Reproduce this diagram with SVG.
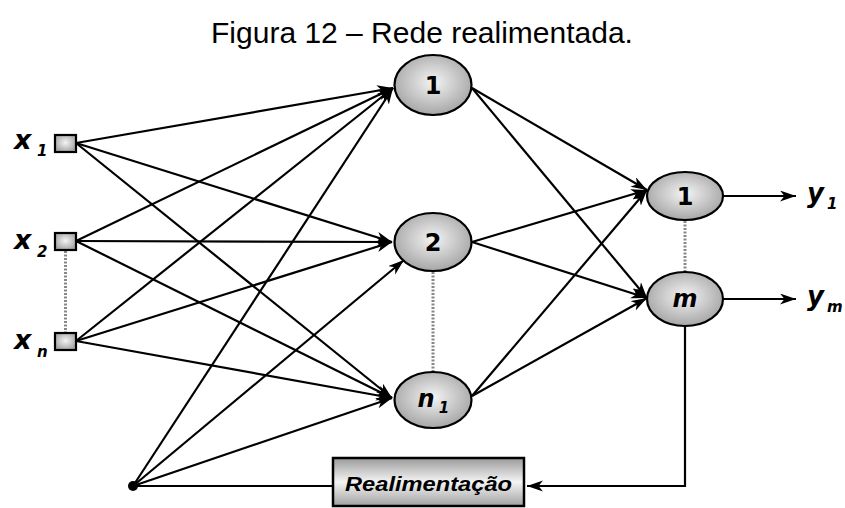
<svg xmlns="http://www.w3.org/2000/svg" width="845" height="508" viewBox="0 0 845 508">
<style>
.t{font-family:"Liberation Sans",Arial,sans-serif;fill:#000}
.lbl{font-family:"DejaVu Sans",sans-serif;font-weight:bold;font-style:italic;fill:#000}
.num{font-family:"DejaVu Sans",sans-serif;font-weight:bold;fill:#000}
.fbt{font-family:"Liberation Sans",Arial,sans-serif;font-weight:bold;font-style:italic;fill:#000}
.ln{stroke:#000;stroke-width:2.2;fill:none}
.arr{stroke:#000;stroke-width:2.2;fill:none;marker-end:url(#ah)}
.dot{stroke:#888;stroke-width:3;stroke-dasharray:2 1.5;fill:none}
.nd{fill:url(#rg);stroke:#000;stroke-width:2.2}
</style>
<defs>
<radialGradient id="rg" cx="50%" cy="45%" r="55%">
<stop offset="0" stop-color="#f4f4f4"/>
<stop offset="1" stop-color="#a6a6a6"/>
</radialGradient>
<linearGradient id="lg" x1="0" y1="0" x2="0" y2="1">
<stop offset="0" stop-color="#9a9a9a"/>
<stop offset="0.5" stop-color="#f4f4f4"/>
<stop offset="1" stop-color="#a0a0a0"/>
</linearGradient>
<marker id="ah" markerUnits="userSpaceOnUse" markerWidth="18" markerHeight="12" refX="16" refY="5.5" orient="auto">
<path d="M0,0 L16,5.5 L0,11 L4.5,5.5 Z" fill="#000"/>
</marker>
</defs>
<text class="t" x="422" y="43" font-size="30" text-anchor="middle">Figura 12 – Rede realimentada.</text>
<g id="connectors">
<line class="arr" x1="76" y1="143" x2="393" y2="88"/>
<line class="arr" x1="76" y1="143" x2="392" y2="242"/>
<line class="arr" x1="76" y1="143" x2="392" y2="398"/>
<line class="arr" x1="76" y1="241" x2="393" y2="88"/>
<line class="arr" x1="76" y1="241" x2="392" y2="242"/>
<line class="arr" x1="76" y1="241" x2="392" y2="398"/>
<line class="arr" x1="76" y1="341" x2="393" y2="88"/>
<line class="arr" x1="76" y1="341" x2="392" y2="242"/>
<line class="arr" x1="76" y1="341" x2="392" y2="398"/>
<line class="arr" x1="133" y1="486" x2="393" y2="88"/>
<line class="arr" x1="133" y1="486" x2="404" y2="260"/>
<line class="arr" x1="133" y1="486" x2="392" y2="398"/>
<line class="ln" x1="133" y1="486" x2="333" y2="486"/>
<line class="arr" x1="472" y1="88" x2="647" y2="190"/>
<line class="arr" x1="472" y1="88" x2="647" y2="298"/>
<line class="arr" x1="472" y1="242" x2="647" y2="190"/>
<line class="arr" x1="472" y1="242" x2="647" y2="298"/>
<line class="arr" x1="472" y1="396" x2="647" y2="190"/>
<line class="arr" x1="472" y1="396" x2="647" y2="298"/>
<line class="arr" x1="723" y1="196" x2="796" y2="196"/>
<line class="arr" x1="723" y1="299" x2="796" y2="299"/>
<polyline class="arr" points="685,327 685,486 527,486"/>
<line class="dot" x1="65.5" y1="251" x2="65.5" y2="333"/>
<line class="dot" x1="433" y1="272" x2="433" y2="372"/>
<line class="dot" x1="685" y1="221" x2="685" y2="272"/>
</g>
<g id="in1"><rect class="nd" x="55" y="135" width="21" height="17"/>
<text class="lbl" x="14" y="149" font-size="27">x</text><text class="lbl" x="37" y="156" font-size="15">1</text></g>
<g id="in2"><rect class="nd" x="55" y="233" width="21" height="17"/>
<text class="lbl" x="14" y="249" font-size="27">x</text><text class="lbl" x="37" y="257" font-size="15">2</text></g>
<g id="inn"><rect class="nd" x="55" y="333" width="21" height="17"/>
<text class="lbl" x="14" y="349" font-size="27">x</text><text class="lbl" x="37" y="357" font-size="15">n</text></g>
<g id="h1"><ellipse class="nd" cx="433" cy="85" rx="38.5" ry="30"/><text class="num" x="433" y="94" font-size="24" text-anchor="middle">1</text></g>
<g id="h2"><ellipse class="nd" cx="433" cy="242" rx="38.5" ry="29"/><text class="num" x="433" y="251" font-size="24" text-anchor="middle">2</text></g>
<g id="hn"><ellipse class="nd" cx="433" cy="400" rx="38.5" ry="28"/><text class="lbl" x="426" y="407" font-size="24" text-anchor="middle">n</text><text class="lbl" x="444" y="413" font-size="15" text-anchor="middle">1</text></g>
<g id="o1"><ellipse class="nd" cx="685" cy="196" rx="38" ry="24"/><text class="num" x="685" y="205" font-size="24" text-anchor="middle">1</text></g>
<g id="om"><ellipse class="nd" cx="685" cy="299" rx="38" ry="27"/><text class="lbl" x="685" y="307" font-size="24" text-anchor="middle">m</text></g>
<g id="y1"><text class="lbl" x="807" y="202" font-size="26">y</text><text class="lbl" x="827" y="209" font-size="15">1</text></g>
<g id="ym"><text class="lbl" x="807" y="305" font-size="26">y</text><text class="lbl" x="827" y="312" font-size="15">m</text></g>
<g id="fb"><rect x="333" y="458" width="191" height="48" fill="url(#lg)" stroke="#000" stroke-width="2.5"/>
<text class="fbt" x="345" y="491" font-size="21" textLength="167" lengthAdjust="spacingAndGlyphs">Realimentação</text></g>
<circle cx="133" cy="486" r="5" fill="#000"/>
</svg>
